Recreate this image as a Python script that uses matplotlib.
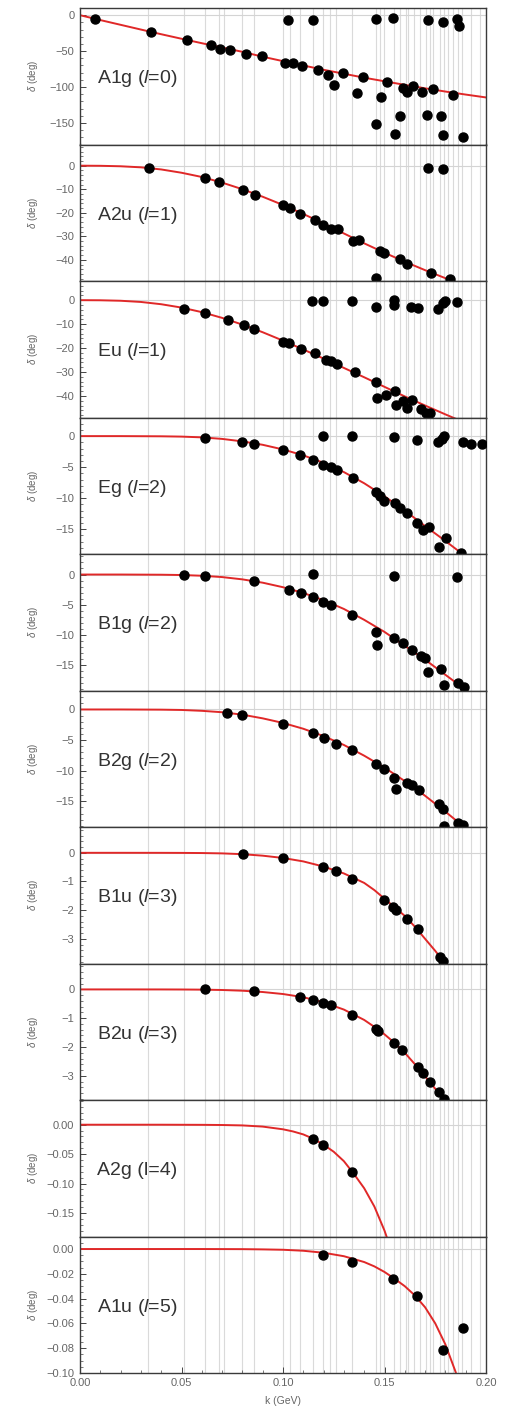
import numpy as np
import matplotlib
matplotlib.use('Agg')
import matplotlib.pyplot as plt
from matplotlib.ticker import MultipleLocator, FuncFormatter

plt.rcParams['font.family'] = ['Liberation Sans', 'DejaVu Sans']
plt.rcParams['mathtext.fontset'] = 'custom'
plt.rcParams['mathtext.rm'] = 'Liberation Sans'
plt.rcParams['mathtext.it'] = 'Liberation Sans:italic'

# k values of the finite-volume levels (vertical grid lines)
grid_k = [0.0335, 0.0512, 0.0615, 0.0685, 0.0710, 0.0800, 0.0858, 0.0999, 0.1033,
          0.1084, 0.1149, 0.1199, 0.1233, 0.1262, 0.1340, 0.1458, 0.1478, 0.1500,
          0.1545, 0.1574, 0.1605, 0.1618, 0.1645, 0.1675, 0.1702, 0.1725, 0.1740,
          0.1772, 0.1793, 0.1815, 0.1835, 0.1860, 0.1882, 0.1924, 0.1970]

# ---- data points (k in GeV, delta in deg) ----
k_a1g = [0.0076, 0.0352, 0.0528, 0.0643, 0.0689, 0.0738, 0.0820, 0.0896, 0.1009, 0.1047,
         0.1096, 0.1170, 0.1223, 0.1251, 0.1297, 0.1366, 0.1395, 0.1481, 0.1510, 0.1592,
         0.1612, 0.1642, 0.1683, 0.1737, 0.1836, 0.1458, 0.1551, 0.1576, 0.1711, 0.1776,
         0.1790, 0.1888, 0.1025, 0.1149, 0.1458, 0.1543, 0.1716, 0.1790, 0.1855, 0.1868]
d_a1g = [-5.6, -23.8, -35.0, -42.1, -47.2, -48.6, -54.7, -57.5, -65.9, -66.4,
         -70.1, -76.2, -82.7, -97.7, -79.9, -107.9, -85.5, -114.5, -92.5, -101.4,
         -107.5, -98.1, -107.5, -102.8, -111.2, -151.9, -165.0, -140.2, -138.8, -140.2,
         -167.3, -169.2, -6.1, -7.0, -4.7, -3.3, -7.0, -9.3, -4.7, -14.5]

k_a2u = [0.0339, 0.0618, 0.0684, 0.0804, 0.0863, 0.1001, 0.1034, 0.1083, 0.1157, 0.1198,
         0.1234, 0.1272, 0.1346, 0.1375, 0.1477, 0.1497, 0.1576, 0.1612, 0.1727, 0.1822,
         0.1456, 0.1716, 0.1790]
d_a2u = [-1.0, -5.3, -7.1, -10.4, -12.3, -16.9, -18.0, -20.6, -23.0, -25.4,
         -27.1, -26.9, -32.1, -31.7, -36.4, -37.1, -39.6, -41.9, -45.7, -48.3,
         -47.9, -1.0, -1.4]

k_eu = [0.0513, 0.0618, 0.0728, 0.0807, 0.0856, 0.1001, 0.1030, 0.1088, 0.1157, 0.1211,
        0.1234, 0.1264, 0.1354, 0.1458, 0.1464, 0.1507, 0.1551, 0.1556, 0.1592, 0.1612,
        0.1634, 0.1678, 0.1704, 0.1724, 0.1144, 0.1198, 0.1338, 0.1458, 0.1546, 0.1546,
        0.1629, 0.1666, 0.1765, 0.1786, 0.1798, 0.1859]
d_eu = [-3.5, -5.5, -8.3, -10.5, -12.2, -17.3, -18.0, -20.4, -22.2, -24.8,
        -25.3, -26.7, -29.9, -34.1, -40.8, -39.7, -37.9, -43.9, -42.1, -44.9,
        -41.7, -45.3, -47.0, -47.3, -0.4, -0.4, -0.4, -2.9, 0.0, -2.1,
        -2.9, -3.2, -3.5, -1.0, -0.4, -0.7]

k_eg = [0.0615, 0.0800, 0.0856, 0.0998, 0.1083, 0.1149, 0.1198, 0.1234, 0.1264, 0.1343,
        0.1458, 0.1477, 0.1497, 0.1551, 0.1576, 0.1612, 0.1658, 0.1691, 0.1721, 0.1770,
        0.1803, 0.1875, 0.1195, 0.1338, 0.1546, 0.1661, 0.1765, 0.1781, 0.1795, 0.1888,
        0.1924, 0.1979]
d_eg = [-0.27, -0.9, -1.2, -2.2, -3.1, -3.9, -4.6, -5.0, -5.4, -6.7,
        -9.0, -9.6, -10.5, -10.8, -11.6, -12.4, -14.0, -15.2, -14.7, -17.8,
        -16.5, -18.8, 0.0, 0.0, -0.1, -0.7, -1.0, -0.4, 0.0, -1.0,
        -1.2, -1.2]

k_b1g = [0.0513, 0.0615, 0.0856, 0.1030, 0.1088, 0.1149, 0.1198, 0.1234, 0.1341, 0.1458,
         0.1464, 0.1548, 0.1589, 0.1634, 0.1678, 0.1699, 0.1716, 0.1776, 0.1793, 0.1864,
         0.1892, 0.1149, 0.1546, 0.1859]
d_b1g = [0.0, -0.16, -1.1, -2.5, -3.0, -3.8, -4.5, -5.0, -6.7, -9.5,
         -11.7, -10.5, -11.3, -12.5, -13.5, -13.9, -16.2, -15.7, -18.3, -18.0,
         -18.7, 0.1, -0.3, -0.4]

k_b2g = [0.0725, 0.0800, 0.0998, 0.1149, 0.1201, 0.1260, 0.1341, 0.1458, 0.1499, 0.1546,
         0.1555, 0.1612, 0.1634, 0.1670, 0.1770, 0.1790, 0.1864, 0.1888, 0.1793]
d_b2g = [-0.5, -0.9, -2.3, -3.9, -4.6, -5.7, -6.7, -8.9, -9.7, -11.2,
         -13.0, -12.0, -12.4, -13.2, -15.4, -16.2, -18.6, -18.9, -19.0]

k_b1u = [0.0804, 0.0998, 0.1198, 0.1260, 0.1341, 0.1497, 0.1543, 0.1555, 0.1612, 0.1666,
         0.1773, 0.1790]
d_b1u = [-0.05, -0.18, -0.49, -0.64, -0.90, -1.63, -1.89, -2.01, -2.32, -2.67,
         -3.64, -3.79]

k_b2u = [0.0615, 0.0856, 0.1083, 0.1149, 0.1198, 0.1236, 0.1341, 0.1458, 0.1469, 0.1546,
         0.1584, 0.1666, 0.1691, 0.1724, 0.1770, 0.1793]
d_b2u = [0.0, -0.05, -0.25, -0.36, -0.46, -0.54, -0.88, -1.38, -1.44, -1.85,
         -2.09, -2.71, -2.91, -3.20, -3.55, -3.79]

k_a2g = [0.1149, 0.1198, 0.1338]
d_a2g = [-0.0245, -0.0342, -0.0804]

k_a1u = [0.1198, 0.1338, 0.1543, 0.1661, 0.1790, 0.1888]
d_a1u = [-0.0048, -0.0106, -0.0239, -0.0379, -0.0817, -0.0639]

# ---- fitted curves ----
fk_a1g = [0.00, 0.01, 0.02, 0.03, 0.04, 0.05, 0.06, 0.07, 0.08, 0.09, 0.10,
          0.11, 0.12, 0.13, 0.14, 0.15, 0.16, 0.17, 0.18, 0.19, 0.20]
fd_a1g = [0, -6.8, -13.4, -20.0, -26.5, -32.8, -39.0, -45.0, -51.0, -57.8, -64.0,
          -70.0, -76.0, -81.5, -87.0, -92.0, -97.0, -101.8, -106.3, -110.5, -114.5]

fk_l1 = [0.00, 0.01, 0.02, 0.03, 0.04, 0.05, 0.06, 0.07, 0.08, 0.09, 0.10,
         0.11, 0.12, 0.13, 0.14, 0.15, 0.16, 0.17, 0.18, 0.19, 0.20]
fd_a2u = [0, -0.05, -0.25, -0.7, -1.6, -3.0, -4.8, -7.2, -10.0, -13.2, -16.7,
          -20.5, -24.6, -28.8, -33.0, -37.0, -40.8, -44.4, -47.8, -51.0, -54.0]
fd_eu = [0, -0.05, -0.25, -0.75, -1.7, -3.1, -5.0, -7.4, -10.2, -13.4, -16.9,
         -20.6, -24.4, -28.3, -32.2, -36.2, -40.2, -44.0, -47.7, -51.3, -54.8]

fk_l2 = [0.00, 0.02, 0.04, 0.05, 0.06, 0.07, 0.08, 0.09, 0.10,
         0.11, 0.12, 0.13, 0.14, 0.15, 0.16, 0.17, 0.18, 0.19, 0.20]
fd_eg = [0, 0, -0.03, -0.08, -0.2, -0.45, -0.85, -1.4, -2.15,
         -3.1, -4.3, -5.8, -7.6, -9.7, -12.0, -14.5, -16.9, -19.4, -22.0]
fd_b1g = [0, 0, -0.03, -0.08, -0.2, -0.42, -0.8, -1.35, -2.1,
          -3.05, -4.25, -5.7, -7.5, -9.5, -11.8, -14.1, -16.6, -19.1, -21.8]
fd_b2g = [0, 0, -0.03, -0.08, -0.22, -0.45, -0.85, -1.45, -2.2,
          -3.15, -4.35, -5.8, -7.55, -9.5, -11.7, -14.1, -16.7, -19.4, -22.3]

fk_l3 = [0.00, 0.02, 0.04, 0.05, 0.06, 0.07, 0.08, 0.09, 0.10, 0.11, 0.12, 0.13,
         0.14, 0.145, 0.15, 0.155, 0.16, 0.165, 0.17, 0.175, 0.18, 0.185, 0.19, 0.20]
fd_b1u = [0, 0, -0.001, -0.003, -0.008, -0.02, -0.048, -0.1, -0.18, -0.3, -0.48, -0.72,
          -1.05, -1.3, -1.6, -1.9, -2.2, -2.58, -3.0, -3.42, -3.87, -4.35, -4.9, -6.0]
fd_b2u = [0, 0, -0.001, -0.003, -0.008, -0.02, -0.045, -0.09, -0.16, -0.27, -0.45, -0.7,
          -1.06, -1.3, -1.56, -1.86, -2.2, -2.6, -3.02, -3.45, -3.9, -4.4, -4.95, -6.1]

fk_a2g = [0.00, 0.04, 0.06, 0.07, 0.08, 0.09, 0.10, 0.105, 0.11, 0.115,
          0.12, 0.125, 0.13, 0.135, 0.14, 0.145, 0.15, 0.155]
fd_a2g = [0, 0, -0.0002, -0.0005, -0.0012, -0.0032, -0.0078, -0.0115, -0.0165, -0.024,
          -0.034, -0.046, -0.062, -0.084, -0.108, -0.139, -0.18, -0.23]

fk_a1u = [0.00, 0.06, 0.08, 0.09, 0.10, 0.11, 0.12, 0.13, 0.14, 0.145,
          0.15, 0.155, 0.16, 0.165, 0.17, 0.175, 0.18, 0.185, 0.19]
fd_a1u = [0, 0, -0.0001, -0.0003, -0.0006, -0.0014, -0.003, -0.0058, -0.0105, -0.014,
          -0.0185, -0.024, -0.03, -0.0375, -0.047, -0.06, -0.077, -0.099, -0.125]

labels = ['A1g ($\\mathit{l}$=0)', 'A2u ($\\mathit{l}$=1)', 'Eu ($\\mathit{l}$=1)',
          'Eg ($\\mathit{l}$=2)', 'B1g ($\\mathit{l}$=2)', 'B2g ($\\mathit{l}$=2)',
          'B1u ($\\mathit{l}$=3)', 'B2u ($\\mathit{l}$=3)', 'A2g (l=4)', 'A1u ($\\mathit{l}$=5)']

panels = [
    (k_a1g, d_a1g, fk_a1g, fd_a1g, (-180, 10), 50, 10, 0),
    (k_a2u, d_a2u, fk_l1, fd_a2u, (-49, 9), 10, 2, 0),
    (k_eu, d_eu, fk_l1, fd_eu, (-49, 8), 10, 2, 0),
    (k_eg, d_eg, fk_l2, fd_eg, (-19, 3), 5, 1, 0),
    (k_b1g, d_b1g, fk_l2, fd_b1g, (-19.2, 3.4), 5, 1, 0),
    (k_b2g, d_b2g, fk_l2, fd_b2g, (-19.2, 3.1), 5, 1, 0),
    (k_b1u, d_b1u, fk_l3, fd_b1u, (-3.86, 0.9), 1, 0.2, 0),
    (k_b2u, d_b2u, fk_l3, fd_b2u, (-3.84, 0.9), 1, 0.2, 0),
    (k_a2g, d_a2g, fk_a2g, fd_a2g, (-0.19, 0.042), 0.05, 0.01, 2),
    (k_a1u, d_a1u, fk_a1u, fd_a1u, (-0.10, 0.0101), 0.02, 0.005, 2),
]


def tick_fmt(decimals):
    def f(v, pos):
        if abs(v) < 1e-9:
            v = 0.0
        return ('%.*f' % (decimals, v)).replace('-', '\u2212')
    return FuncFormatter(f)


W, H = 506, 1413
fig, axes = plt.subplots(10, 1, sharex=True, figsize=(W / 100, H / 100), dpi=100)
fig.subplots_adjust(left=80 / W, right=486 / W, top=1 - 8 / H, bottom=1 - 1373 / H, hspace=0)

tick_col = '#666666'
for ax, lab, (kx, dy, fk, fd, ylim, major, minor, dec) in zip(axes, labels, panels):
    for g in grid_k:
        ax.axvline(g, color='#dadada', lw=0.8, zorder=0)
    ax.axhline(0, color='#d4d4d4', lw=0.8, zorder=0)
    ax.plot(fk, fd, color='#e02828', lw=1.4, zorder=2)
    ax.plot(kx, dy, 'o', color='black', ms=6.5, zorder=3)
    ax.set_xlim(0, 0.20)
    ax.set_ylim(*ylim)
    ax.yaxis.set_major_locator(MultipleLocator(major))
    ax.yaxis.set_minor_locator(MultipleLocator(minor))
    ax.yaxis.set_major_formatter(tick_fmt(dec))
    ax.tick_params(axis='y', which='both', direction='in', colors='#444444',
                   labelcolor=tick_col, labelsize=8, right=False, pad=4)
    ax.tick_params(axis='y', which='major', length=4, width=0.7)
    ax.tick_params(axis='y', which='minor', length=2, width=0.5)
    ax.tick_params(axis='x', which='both', bottom=False, top=False)
    for s in ax.spines.values():
        s.set_color('#3a3a3a')
        s.set_linewidth(1.0)
    ax.set_ylabel('$\\mathit{\\delta}$ (deg)', fontsize=7, color=tick_col)
    ax.yaxis.set_label_coords((40 - 80) / 406, 0.5)
    ax.text(0.043, 0.48, lab, transform=ax.transAxes, fontsize=14, color='#333333',
            va='center', ha='left')

last = axes[-1]
last.xaxis.set_major_locator(MultipleLocator(0.05))
last.xaxis.set_minor_locator(MultipleLocator(0.01))
last.xaxis.set_major_formatter(tick_fmt(2))
last.tick_params(axis='x', which='both', bottom=True, direction='in', colors='#444444',
                 labelcolor=tick_col, labelsize=8)
last.tick_params(axis='x', which='major', length=4, width=0.7)
last.tick_params(axis='x', which='minor', length=2, width=0.5)
last.set_xlabel('k (GeV)', fontsize=7.5, color=tick_col, labelpad=6)

fig.savefig('out.png', dpi=100)
